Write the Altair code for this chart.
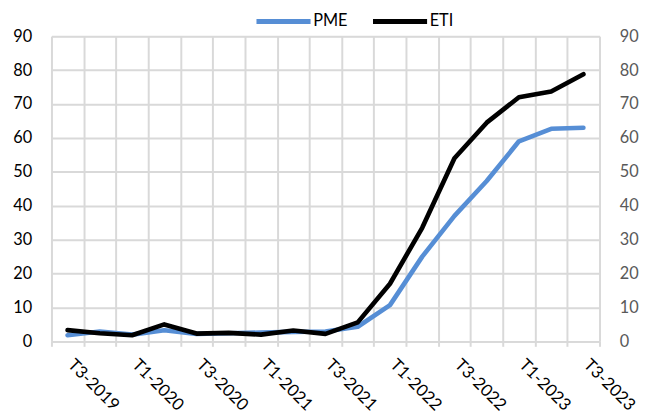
import altair as alt
import pandas as pd

quarters = ['T3-2019', 'T4-2019', 'T1-2020', 'T2-2020', 'T3-2020', 'T4-2020',
            'T1-2021', 'T2-2021', 'T3-2021', 'T4-2021', 'T1-2022', 'T2-2022',
            'T3-2022', 'T4-2022', 'T1-2023', 'T2-2023', 'T3-2023']
pme = [1.8, 2.9, 2.0, 3.3, 2.2, 2.4, 2.6, 2.8, 2.9, 4.3, 10.7, 25, 37, 47.3, 59, 62.7, 63]
eti = [3.3, 2.4, 1.8, 5.0, 2.3, 2.5, 2.0, 3.2, 2.2, 5.6, 17, 33.5, 54, 64.5, 72, 73.7, 78.8]
series = ['PME', 'ETI']
colors = ['#568ED5', '#000000']

rows = []
for name, vals in zip(series, [pme, eti]):
    for q, v in zip(quarters, vals):
        rows.append({'q': q, 'series': name, 'value': v})
df = pd.DataFrame(rows)

FONT = 'Lato'
GRID = '#d9d9d9'

xscale = alt.Scale(type='band', paddingInner=0, paddingOuter=0)
yscale = alt.Scale(domain=[0, 90], nice=False)

x_axis = alt.Axis(title=None, orient='bottom', labelAngle=45, labelAlign='left', labelBaseline='top',
                  labelFont=FONT, labelFontSize=17, labelColor='#000000',
                  labelPadding=10, labelOffset=8, tickBand='extent', ticks=True, tickSize=5,
                  tickColor=GRID, tickWidth=2, grid=True, gridColor=GRID, gridWidth=2,
                  domainColor=GRID, domainWidth=2, labelOverlap=False,
                  labelExpr="(substring(datum.value,0,2)=='T1' || substring(datum.value,0,2)=='T3') ? datum.label : ''")

base = alt.Chart(df)

lines = base.mark_line(strokeCap='round', strokeJoin='round', strokeWidth=4.7).encode(
    x=alt.X('q:N', sort=quarters, scale=xscale, axis=x_axis),
    y=alt.Y('value:Q', scale=yscale,
            axis=alt.Axis(title=None, orient='left', values=list(range(0, 91, 10)), labelFont=FONT,
                          labelFontSize=16.5, labelColor='#000000', labelPadding=20,
                          ticks=False, domain=False, grid=True, gridColor=GRID, gridWidth=2)),
    color=alt.Color('series:N', sort=series,
                    scale=alt.Scale(domain=series, range=colors),
                    legend=alt.Legend(title=None, orient='none', direction='horizontal',
                                      legendX=205, legendY=-45, symbolType='stroke',
                                      symbolSize=3000, symbolStrokeWidth=5,
                                      labelFont=FONT, labelFontSize=16.5, labelColor='#000000',
                                      labelOffset=0, columnPadding=15, padding=0)),
)

right = base.mark_point(opacity=0).encode(
    y=alt.Y('value:Q', scale=yscale,
            axis=alt.Axis(title=None, orient='right', values=list(range(0, 91, 10)),
                          labelFont=FONT, labelFontSize=16.5, labelColor='#595959',
                          labelPadding=20, ticks=False, domain=False, grid=False)),
)

chart = alt.layer(lines, right).resolve_axis(y='independent').properties(
    width=555, height=309,
    autosize=alt.AutoSizeParams(type='none'),
    padding={'left': 44, 'top': 26, 'right': 42, 'bottom': 74},
).configure_view(stroke=GRID, strokeWidth=2).configure(background='white')

chart.save('out.html', embed_options={'renderer': 'svg', 'actions': False})
